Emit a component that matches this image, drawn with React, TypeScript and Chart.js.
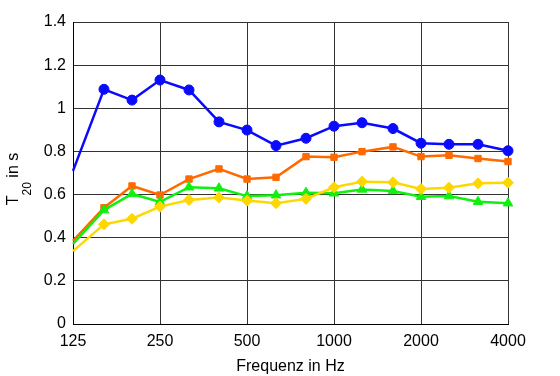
import React, { useEffect, useRef } from "react";
import { Chart, registerables } from "chart.js";

Chart.register(...registerables);

const freqs = [125, 160, 200, 250, 315, 400, 500, 630, 800, 1000, 1250, 1600, 2000, 2500, 3150, 4000];
const xTicks = [125, 250, 500, 1000, 2000, 4000];
const yTicks = [0, 0.2, 0.4, 0.6, 0.8, 1, 1.2, 1.4];

const blue = [0.71, 1.088, 1.038, 1.131, 1.085, 0.937, 0.899, 0.827, 0.861, 0.917, 0.933, 0.906, 0.838, 0.833, 0.833, 0.803];
const orange = [0.385, 0.539, 0.64, 0.598, 0.672, 0.719, 0.672, 0.68, 0.776, 0.773, 0.799, 0.821, 0.776, 0.782, 0.767, 0.753];
const green = [0.371, 0.528, 0.603, 0.566, 0.634, 0.629, 0.593, 0.597, 0.609, 0.606, 0.624, 0.617, 0.59, 0.593, 0.567, 0.56];
const yellow = [0.338, 0.462, 0.488, 0.544, 0.575, 0.586, 0.572, 0.56, 0.58, 0.634, 0.66, 0.657, 0.626, 0.632, 0.652, 0.655];

const FONT = "Arial, 'Liberation Sans', sans-serif";

const yTitlePlugin = {
  id: "yTitle",
  afterDraw(chart: any) {
    const ctx = chart.ctx;
    ctx.save();
    ctx.translate(18, 179);
    ctx.rotate(-Math.PI / 2);
    ctx.fillStyle = "#000";
    ctx.textBaseline = "alphabetic";
    ctx.textAlign = "left";
    const big = `16px ${FONT}`;
    const small = `12px ${FONT}`;
    ctx.font = big;
    const wT = ctx.measureText("T").width;
    const wRest = ctx.measureText(" in s").width;
    ctx.font = small;
    const wSub = ctx.measureText("20").width;
    const total = wT + wSub + wRest;
    let x = -total / 2;
    ctx.font = big;
    ctx.fillText("T", x, 0);
    x += wT;
    ctx.font = small;
    ctx.fillText("20", x, 13);
    x += wSub;
    ctx.font = big;
    ctx.fillText(" in s", x, 0);
    ctx.restore();
  },
};

function mk(label: string, vals: number[], color: string, style: string, r: number) {
  return {
    label,
    data: freqs.map((f, i) => ({ x: f, y: vals[i] })),
    borderColor: color,
    backgroundColor: color,
    borderWidth: 2.5,
    pointStyle: style,
    pointRadius: (c: any) => (c.dataIndex === 0 ? 0 : r),
    pointBorderWidth: 1,
    tension: 0,
    clip: false as any,
  };
}

export default function App() {
  const ref = useRef<HTMLCanvasElement>(null);
  useEffect(() => {
    document.body.style.margin = "0";
    const chart = new Chart(ref.current!, {
      type: "line",
      data: {
        datasets: [
          mk("yellow", yellow, "#ffd700", "rectRot", 5.5),
          mk("green", green, "#10f010", "triangle", 5.5),
          mk("orange", orange, "#ff6a00", "rect", 4.5),
          mk("blue", blue, "#0a0aff", "circle", 5),
        ],
      },
      options: {
        animation: false,
        responsive: false,
        layout: { padding: { left: 0, top: 22, right: 52, bottom: 0 } },
        plugins: { legend: { display: false }, tooltip: { enabled: false } },
        scales: {
          x: {
            type: "logarithmic",
            min: 125,
            max: 4000,
            afterBuildTicks: (s: any) => {
              s.ticks = xTicks.map((v) => ({ value: v }));
            },
            afterFit: (s: any) => {
              s.height = 52;
            },
            ticks: {
              autoSkip: false,
              maxRotation: 0,
              padding: 8,
              color: "#000",
              font: { family: FONT, size: 16 },
              callback: (v: any) => String(v),
            },
            grid: { color: "#333", lineWidth: 1, drawTicks: false },
            border: { color: "#000", width: 1 },
            title: {
              display: true,
              text: "Frequenz in Hz",
              color: "#000",
              font: { family: FONT, size: 16 },
              padding: { top: 2, bottom: 0 },
            },
          },
          y: {
            type: "linear",
            min: 0,
            max: 1.4,
            afterBuildTicks: (s: any) => {
              s.ticks = yTicks.map((v) => ({ value: v }));
            },
            afterFit: (s: any) => {
              s.width = 73;
            },
            ticks: {
              padding: 7,
              color: "#000",
              font: { family: FONT, size: 16 },
              callback: (v: any) => String(Number(Number(v).toFixed(1))),
            },
            grid: { color: "#333", lineWidth: 1, drawTicks: false },
            border: { color: "#000", width: 1 },
          },
        },
      },
      plugins: [yTitlePlugin],
    });
    return () => chart.destroy();
  }, []);
  return <canvas ref={ref} width={560} height={376} style={{ display: "block" }} />;
}
